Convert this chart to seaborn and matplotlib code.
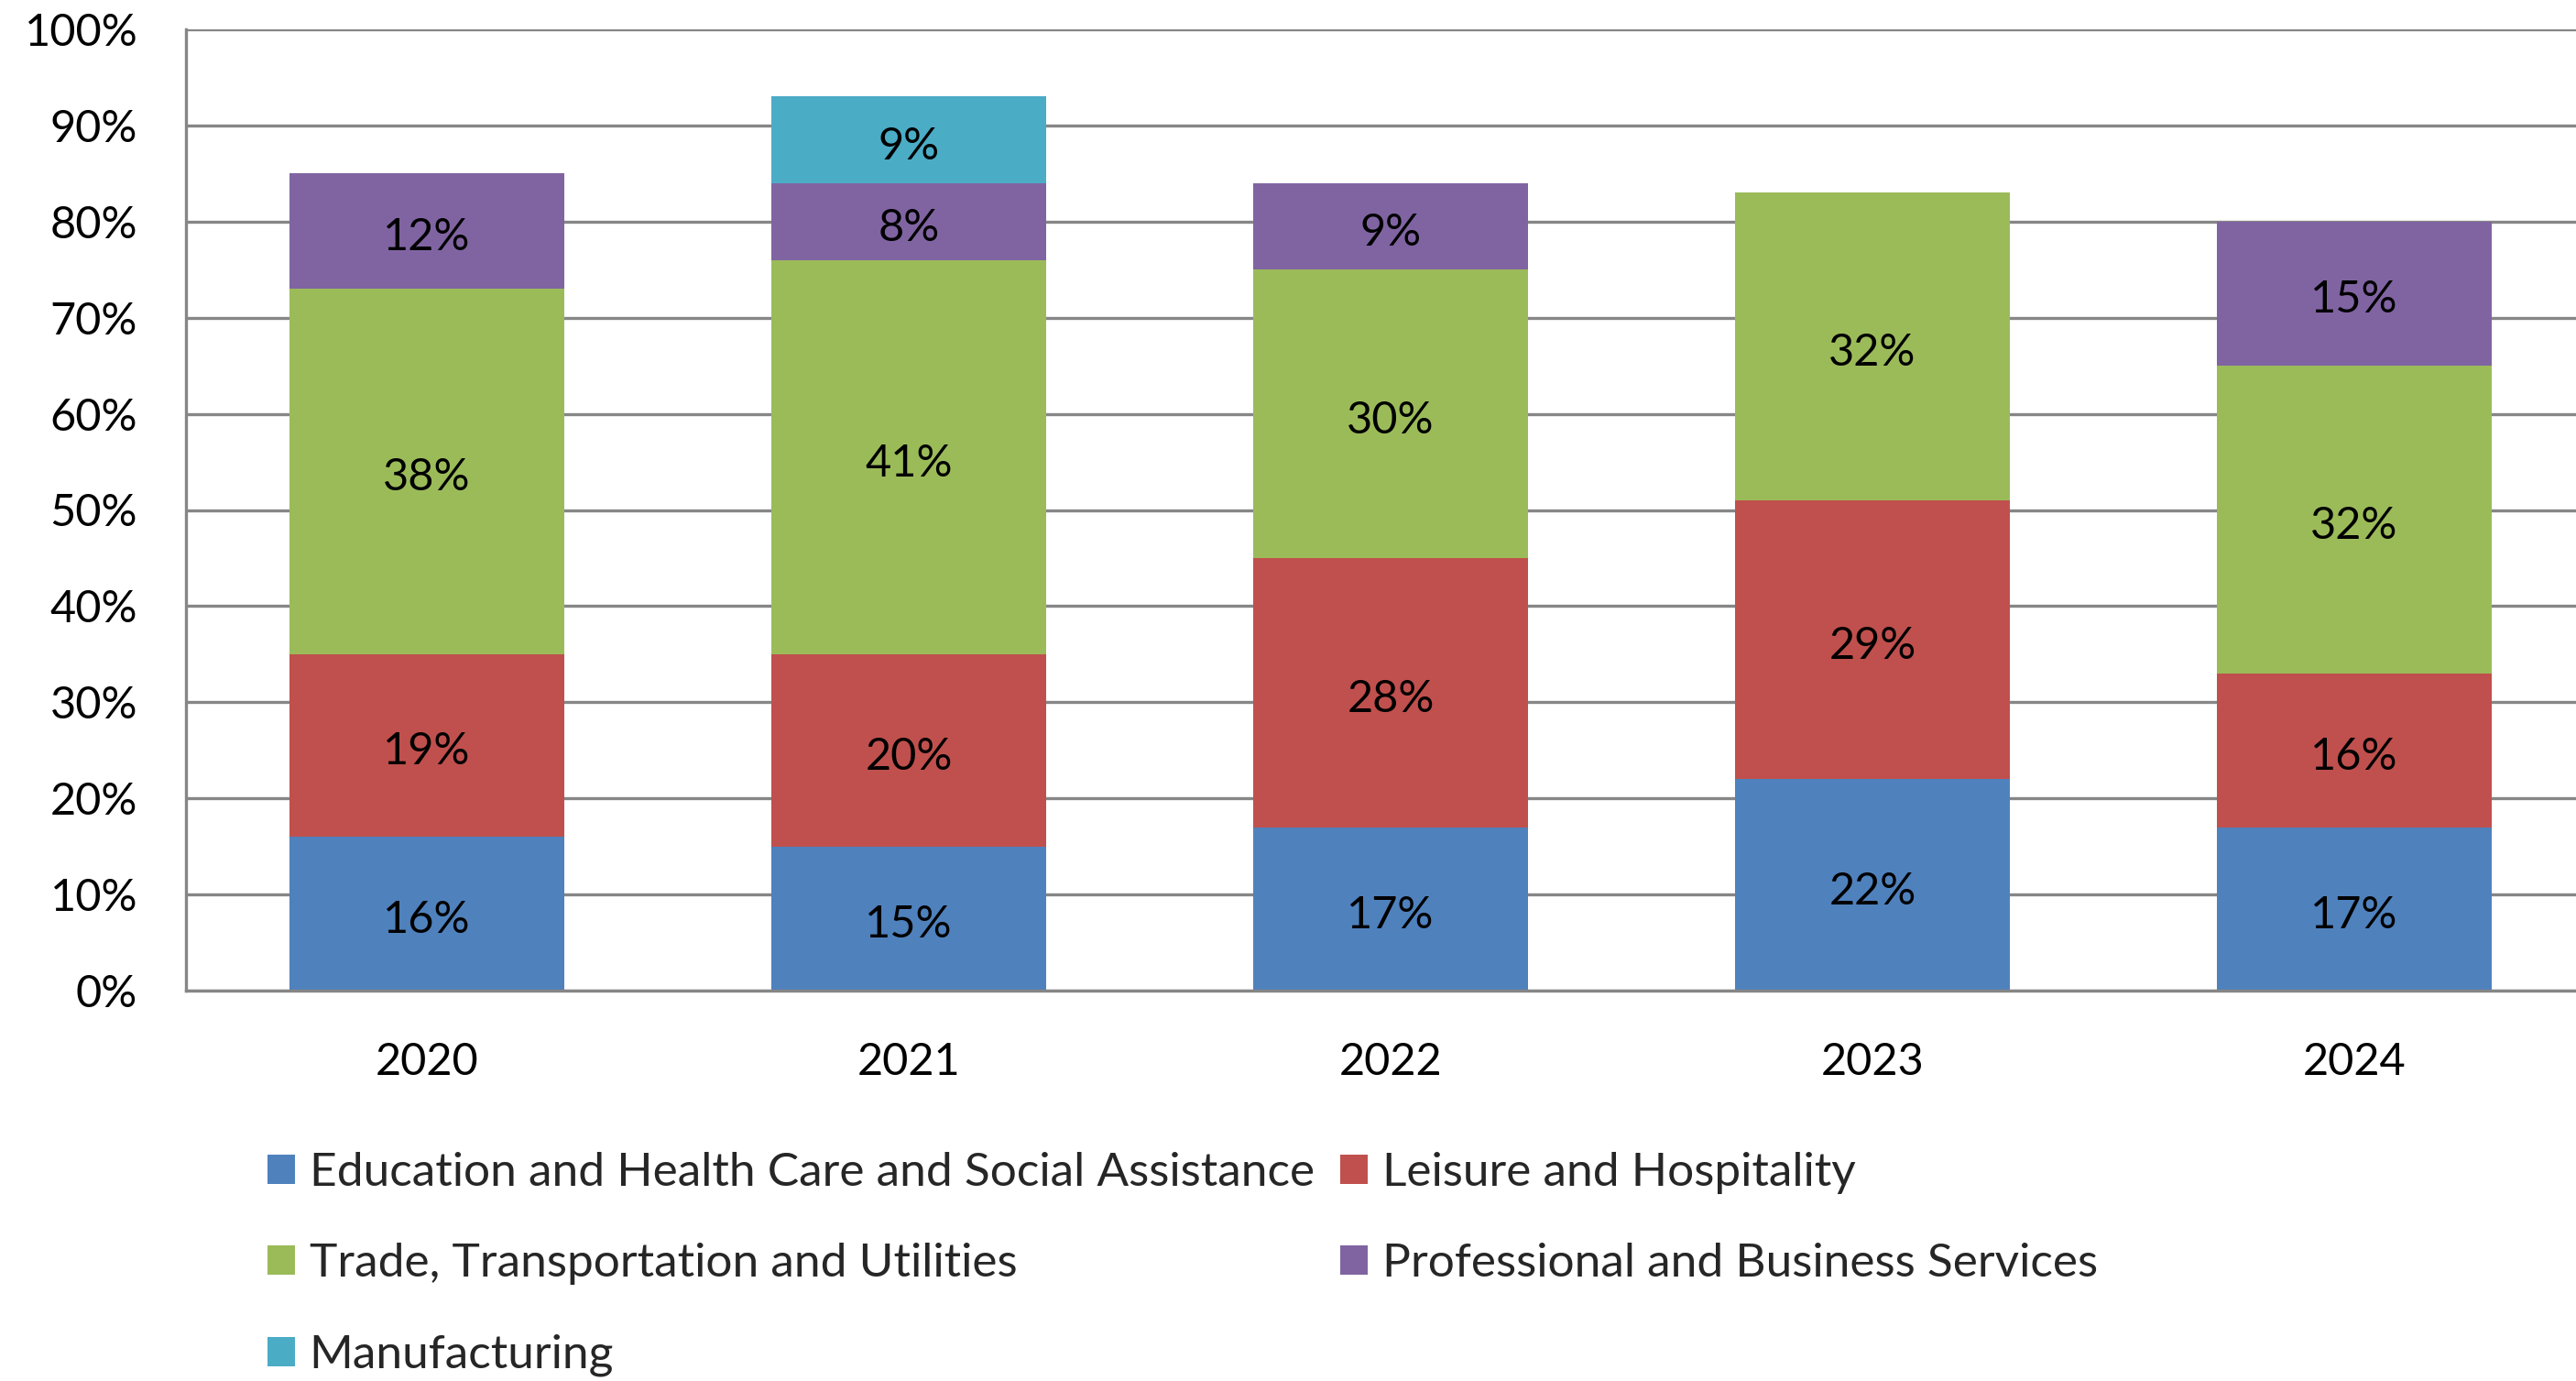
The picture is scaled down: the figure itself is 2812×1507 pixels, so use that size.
import numpy as np
import matplotlib
matplotlib.use("Agg")
import matplotlib.pyplot as plt
import seaborn as sns

# data (percent of total)
years = ["2020", "2021", "2022", "2023", "2024"]
education = [16, 15, 17, 22, 17]
leisure = [19, 20, 28, 29, 16]
trade = [38, 41, 30, 32, 32]
professional = [12, 8, 9, 0, 15]
manufacturing = [0, 9, 0, 0, 0]

series = [
    ("Education and Health Care and Social Assistance", education, "#4F81BD"),
    ("Leisure and Hospitality", leisure, "#C0504D"),
    ("Trade, Transportation and Utilities", trade, "#9BBB59"),
    ("Professional and Business Services", professional, "#8064A2"),
    ("Manufacturing", manufacturing, "#4BACC6"),
]

sns.set_style("white")
plt.rcParams["font.family"] = ["Lato", "DejaVu Sans"]
fs = 35
leg_fs = 37
grid_col = "#868686"

fig = plt.figure(figsize=(28.12, 15.07), dpi=100)
ax = fig.add_axes([203 / 2812, 1 - 1081 / 1507, 2630 / 2812, 1049 / 1507])

bottom = np.zeros(len(years))
for name, vals, col in series:
    vals = np.array(vals, dtype=float)
    sns.barplot(x=years, y=vals, bottom=bottom, color=col, width=0.57,
                label=name, ax=ax, saturation=1, edgecolor="none", linewidth=0)
    bottom += vals

for cont, (name, vals, col) in zip(ax.containers, series):
    labels = [f"{v}%" if v > 0 else "" for v in vals]
    anns = ax.bar_label(cont, labels=labels, label_type="center", fontsize=fs, color="black")
    for a in anns:
        a.xyann = (0, -5)

ax.set_xlim(-0.5, len(years) - 0.5)
ax.set_ylim(0, 100)
ax.set_yticks(range(0, 101, 10))
ax.set_yticklabels([f"{t}%" for t in range(0, 101, 10)])
ax.set_axisbelow(True)
ax.yaxis.grid(True, color=grid_col, linewidth=2.4)
ax.xaxis.grid(False)
ax.tick_params(axis="y", length=0, pad=38, labelsize=fs, colors="black")
ax.tick_params(axis="x", length=0, pad=40, labelsize=fs, colors="black")
for s in ["top", "right"]:
    ax.spines[s].set_visible(False)
for s in ["left", "bottom"]:
    ax.spines[s].set_color(grid_col)
    ax.spines[s].set_linewidth(2.4)
ax.set_xlabel("")
ax.set_ylabel("")
if ax.get_legend() is not None:
    ax.get_legend().remove()

h, l = ax.get_legend_handles_labels()
order = [0, 2, 4, 1, 3]
fig.legend([h[i] for i in order], [l[i] for i in order], ncol=2,
           loc="upper left", bbox_to_anchor=(292 / 2812, 1 - 1257 / 1507),
           frameon=False, fontsize=leg_fs, borderpad=0, borderaxespad=0,
           handlelength=0.59, handleheight=0.59, handletextpad=0.3,
           columnspacing=0.55, labelspacing=1.04)

fig.savefig("out.png", dpi=100)
